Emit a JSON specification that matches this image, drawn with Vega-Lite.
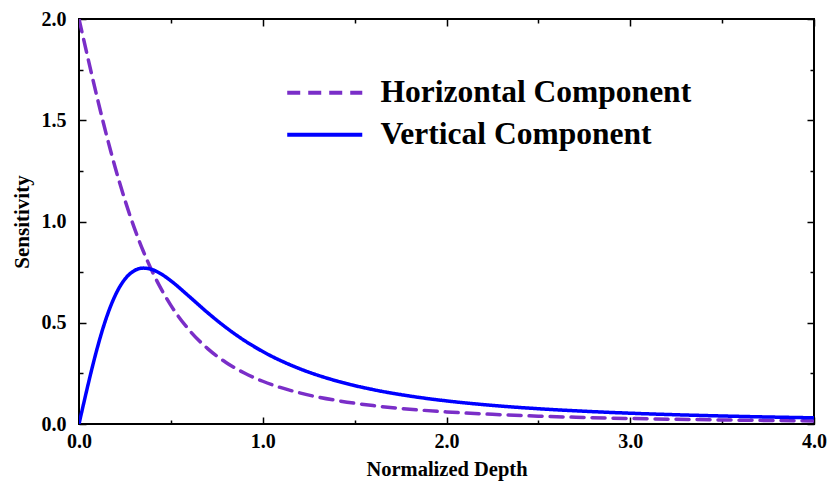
{
  "$schema": "https://vega.github.io/schema/vega-lite/v6.json",
  "width": 735,
  "height": 405,
  "autosize": "none",
  "padding": {"left": 79, "top": 19, "right": 14, "bottom": 57},
  "background": "white",
  "config": {
    "view": {"stroke": "black", "strokeWidth": 2},
    "font": "Liberation Serif",
    "legend": {
      "orient": "none",
      "legendX": 230,
      "legendY": 58,
      "symbolType": "M-4,0H4",
      "symbolSize": 352,
      "symbolStrokeWidth": 4,
      "labelFont": "Liberation Serif",
      "labelFontSize": 31.5,
      "labelFontWeight": "bold",
      "labelColor": "black",
      "labelOffset": 40,
      "rowPadding": 9,
      "labelLimit": 500
    }
  },
  "data": {
    "values": [
      {"depth": 0, "Horizontal Component": 2.0, "Vertical Component": 0},
      {"depth": 0.025, "Horizontal Component": 1.9001, "Vertical Component": 0.0996},
      {"depth": 0.05, "Horizontal Component": 1.801, "Vertical Component": 0.197},
      {"depth": 0.075, "Horizontal Component": 1.7033, "Vertical Component": 0.2902},
      {"depth": 0.1, "Horizontal Component": 1.6078, "Vertical Component": 0.3772},
      {"depth": 0.125, "Horizontal Component": 1.5149, "Vertical Component": 0.4565},
      {"depth": 0.15, "Horizontal Component": 1.4253, "Vertical Component": 0.5272},
      {"depth": 0.175, "Horizontal Component": 1.3393, "Vertical Component": 0.5886},
      {"depth": 0.2, "Horizontal Component": 1.2572, "Vertical Component": 0.6403},
      {"depth": 0.25, "Horizontal Component": 1.1056, "Vertical Component": 0.7155},
      {"depth": 0.3, "Horizontal Component": 0.971, "Vertical Component": 0.7566},
      {"depth": 0.35, "Horizontal Component": 0.8531, "Vertical Component": 0.7698},
      {"depth": 0.4, "Horizontal Component": 0.7506, "Vertical Component": 0.7618},
      {"depth": 0.45, "Horizontal Component": 0.6621, "Vertical Component": 0.7392},
      {"depth": 0.5, "Horizontal Component": 0.5858, "Vertical Component": 0.7071},
      {"depth": 0.6, "Horizontal Component": 0.4636, "Vertical Component": 0.6297},
      {"depth": 0.7, "Horizontal Component": 0.3725, "Vertical Component": 0.5498},
      {"depth": 0.8, "Horizontal Component": 0.304, "Vertical Component": 0.4764},
      {"depth": 0.9, "Horizontal Component": 0.2517, "Vertical Component": 0.4123},
      {"depth": 1.0, "Horizontal Component": 0.2111, "Vertical Component": 0.3578},
      {"depth": 1.2, "Horizontal Component": 0.1538, "Vertical Component": 0.2731},
      {"depth": 1.4, "Horizontal Component": 0.1165, "Vertical Component": 0.2131},
      {"depth": 1.6, "Horizontal Component": 0.091, "Vertical Component": 0.1698},
      {"depth": 1.8, "Horizontal Component": 0.073, "Vertical Component": 0.138},
      {"depth": 2.0, "Horizontal Component": 0.0597, "Vertical Component": 0.1141},
      {"depth": 2.25, "Horizontal Component": 0.0476, "Vertical Component": 0.0919},
      {"depth": 2.5, "Horizontal Component": 0.0388, "Vertical Component": 0.0754},
      {"depth": 2.75, "Horizontal Component": 0.0323, "Vertical Component": 0.063},
      {"depth": 3.0, "Horizontal Component": 0.0272, "Vertical Component": 0.0533},
      {"depth": 3.5, "Horizontal Component": 0.0201, "Vertical Component": 0.0396},
      {"depth": 4.0, "Horizontal Component": 0.0154, "Vertical Component": 0.0305}
    ]
  },
  "transform": [
    {"fold": ["Horizontal Component", "Vertical Component"], "as": ["component", "sensitivity"]}
  ],
  "layer": [
    {
      "mark": {"type": "line", "strokeWidth": 3.5, "strokeCap": "round", "interpolate": "monotone", "clip": true},
      "encoding": {
        "x": {
          "field": "depth", "type": "quantitative",
          "scale": {"domain": [0, 4], "nice": false},
          "axis": {
            "orient": "bottom",
            "values": [0, 0.5, 1, 1.5, 2, 2.5, 3, 3.5, 4],
            "labelExpr": "datum.value % 1 == 0 ? format(datum.value, '.1f') : ''",
            "tickSize": {"condition": {"test": "datum.value % 1 == 0", "value": -7}, "value": -4},
            "tickColor": "black", "tickWidth": 1.5,
            "domain": false, "grid": false,
            "labelFont": "Liberation Serif", "labelFontSize": 20, "labelFontWeight": "bold", "labelColor": "black",
            "labelPadding": 14, "labelFlush": false, "labelOverlap": false,
            "title": "Normalized Depth",
            "titleFont": "Liberation Serif", "titleFontSize": 20.5, "titleFontWeight": "bold", "titleColor": "black",
            "titlePadding": 5
          }
        },
        "y": {
          "field": "sensitivity", "type": "quantitative",
          "scale": {"domain": [0, 2], "nice": false},
          "axis": {
            "orient": "left",
            "values": [0, 0.25, 0.5, 0.75, 1, 1.25, 1.5, 1.75, 2],
            "labelExpr": "datum.value % 0.5 == 0 ? format(datum.value, '.1f') : ''",
            "tickSize": {"condition": {"test": "datum.value % 0.5 == 0", "value": -7}, "value": -4},
            "tickColor": "black", "tickWidth": 1.5,
            "domain": false, "grid": false,
            "labelFont": "Liberation Serif", "labelFontSize": 20, "labelFontWeight": "bold", "labelColor": "black",
            "labelPadding": 20, "labelFlush": false, "labelOverlap": false,
            "title": "Sensitivity",
            "titleFont": "Liberation Serif", "titleFontSize": 21, "titleFontWeight": "bold", "titleColor": "black",
            "titlePadding": 9
          }
        },
        "color": {
          "field": "component", "type": "nominal", "title": null,
          "scale": {"domain": ["Horizontal Component", "Vertical Component"], "range": ["#7a2ec8", "#0000ff"]}
        },
        "strokeDash": {
          "field": "component", "type": "nominal", "title": null,
          "scale": {"domain": ["Horizontal Component", "Vertical Component"], "range": [[13, 8], [1, 0]]}
        }
      }
    },
    {
      "mark": {"type": "line", "opacity": 0},
      "encoding": {
        "x": {
          "field": "depth", "type": "quantitative",
          "axis": {
            "orient": "top",
            "values": [0, 0.5, 1, 1.5, 2, 2.5, 3, 3.5, 4],
            "labels": false, "domain": false, "grid": false, "title": null,
            "tickSize": {"condition": {"test": "datum.value % 1 == 0", "value": -7}, "value": -4},
            "tickColor": "black", "tickWidth": 1.5
          }
        },
        "y": {
          "field": "sensitivity", "type": "quantitative",
          "axis": {
            "orient": "right",
            "values": [0, 0.25, 0.5, 0.75, 1, 1.25, 1.5, 1.75, 2],
            "labels": false, "domain": false, "grid": false, "title": null,
            "tickSize": {"condition": {"test": "datum.value % 0.5 == 0", "value": -7}, "value": -4},
            "tickColor": "black", "tickWidth": 1.5
          }
        },
        "detail": {"field": "component", "type": "nominal"}
      }
    }
  ],
  "resolve": {"axis": {"x": "independent", "y": "independent"}}
}
